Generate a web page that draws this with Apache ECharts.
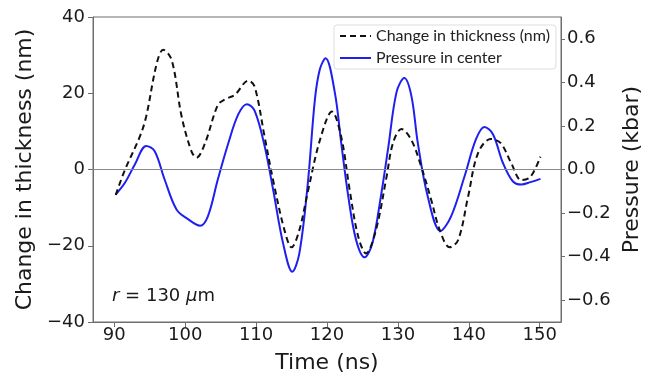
<!DOCTYPE html>
<html>
<head>
<meta charset="utf-8">
<script src="https://cdn.jsdelivr.net/npm/echarts@6/dist/echarts.min.js"></script>
<style>html,body{margin:0;padding:0;background:#fff}#c{width:655px;height:372px}</style>
</head>
<body>
<div id="c"></div>
<script>
const thicknessTime = [90.2,91.5,93.6,94.5,96.0,96.9,98.1,99.5,100.9,101.6,102.8,104.6,105.6,107.0,108.9,109.8,111.2,112.4,114.0,115.0,116.1,117.3,119.0,120.7,122.0,123.2,124.4,125.5,126.9,128.4,129.3,130.5,131.9,133.3,134.7,135.9,137.3,138.5,139.9,141.3,143.1,144.5,146.0,147.4,148.7,150.1];
const thicknessVals = [-6.7,-0.1,8.6,13.9,27.9,31.4,28.7,13.9,4.7,3.1,6.9,16.9,18.4,19.6,23.3,21.7,8.6,-2.8,-15.9,-20.4,-15.9,-5.8,7.7,15.2,8.6,-5.4,-17.6,-22.0,-15.9,-1.9,6.9,10.6,7.7,0.7,-8.0,-15.9,-20.4,-18.5,-7.1,4.3,8.0,6.9,1.6,-2.8,-1.9,3.4];
const pressureTime = [90.2,91.5,92.9,94.5,95.7,97.1,98.8,100.4,102.1,103.2,104.6,106.1,107.5,108.7,109.8,111.2,112.4,113.8,115.1,116.1,117.3,118.3,119.0,119.8,121.1,122.0,123.0,124.1,125.3,126.4,127.6,128.6,129.8,130.9,131.9,132.8,134.2,136.0,137.5,139.4,141.0,142.2,143.4,144.8,146.2,147.4,148.7,150.1];
const pressureVals = [-0.115,-0.061,0.023,0.108,0.084,-0.046,-0.185,-0.228,-0.258,-0.215,-0.046,0.123,0.254,0.300,0.269,0.108,-0.092,-0.338,-0.469,-0.385,-0.061,0.323,0.461,0.511,0.354,0.123,-0.123,-0.323,-0.403,-0.338,-0.123,0.092,0.354,0.420,0.338,0.123,-0.123,-0.282,-0.215,-0.031,0.138,0.195,0.162,0.031,-0.054,-0.069,-0.058,-0.043];
const timeTicks = [90,100,110,120,130,140,150];
const pressureTicks = [-0.6,-0.4,-0.2,0,0.2,0.4,0.6];

const axisColor = '#6e6e6e';
const textColor = '#1a1a1a';
const font = 'DejaVu Sans';
const minus = s => String(s).replace('-', '\u2212');

const chart = echarts.init(document.getElementById('c'));
chart.setOption({
  animation: false,
  grid: {left: 93, right: 94, top: 17, bottom: 50, show: true, borderColor: axisColor, borderWidth: 1,
    outerBoundsMode: 'none', containLabel: false},
  legend: {
    orient: 'vertical', left: 334, top: 25,
    itemWidth: 31, itemHeight: 10, itemGap: 6,
    padding: [3, 6, 3, 5],
    borderColor: '#dddddd', borderWidth: 1, borderRadius: 3, backgroundColor: '#fff',
    itemStyle: {opacity: 0},
    textStyle: {fontFamily: 'Lato', fontSize: 16, color: '#222'},
    data: ['Change in thickness (nm)', 'Pressure in center']
  },
  xAxis: {
    type: 'value', min: 87, max: 153,
    name: 'Time (ns)', nameLocation: 'middle', nameGap: 30,
    nameTextStyle: {fontFamily: font, fontSize: 22, color: textColor},
    axisLine: {show: true, onZero: false, lineStyle: {color: axisColor}},
    axisTick: {show: true, length: 5, customValues: timeTicks, lineStyle: {color: axisColor}},
    axisLabel: {customValues: timeTicks, fontFamily: font, fontSize: 18, color: textColor, margin: 4},
    splitLine: {show: false}
  },
  yAxis: [{
    type: 'value', min: -40, max: 40, interval: 20,
    name: 'Change in thickness (nm)', nameLocation: 'middle', nameGap: 56, nameRotate: 90,
    nameTextStyle: {fontFamily: font, fontSize: 22, color: textColor},
    axisLine: {show: true, onZero: false, lineStyle: {color: axisColor}},
    axisTick: {show: true, length: 5, lineStyle: {color: axisColor}},
    axisLabel: {fontFamily: font, fontSize: 18, color: textColor, margin: 8, formatter: v => minus(v)},
    splitLine: {show: false}
  }, {
    type: 'value', min: -0.7, max: 0.7, position: 'right',
    name: 'Pressure (kbar)', nameLocation: 'middle', nameGap: 57, nameRotate: 90,
    nameTextStyle: {fontFamily: font, fontSize: 22, color: textColor},
    axisLine: {show: true, onZero: false, lineStyle: {color: axisColor}},
    axisTick: {show: true, length: 4, customValues: pressureTicks, lineStyle: {color: axisColor}},
    axisLabel: {customValues: pressureTicks, fontFamily: font, fontSize: 18, color: textColor, margin: 6,
      formatter: v => minus(Number(v).toFixed(1))},
    splitLine: {show: false}
  }],
  graphic: [{
    type: 'text', left: 112, top: 287,
    style: {
      text: '{i|r} = 130 {i|\u03bc}m',
      fontFamily: font, fontSize: 18, fill: textColor,
      rich: {i: {fontFamily: font, fontSize: 18, fontStyle: 'italic', color: textColor}}
    }
  }],
  series: [{
    name: 'Change in thickness (nm)', type: 'line', yAxisIndex: 0,
    data: thicknessTime.map((t, i) => [t, thicknessVals[i]]),
    smooth: 0.35, showSymbol: false, symbol: 'none', color: '#111',
    lineStyle: {color: '#111', width: 2, type: [6, 4]},
    z: 3,
    markLine: {
      silent: true, symbol: 'none', label: {show: false},
      lineStyle: {color: '#888', width: 1, type: 'solid'},
      data: [{yAxis: 0}]
    }
  }, {
    name: 'Pressure in center', type: 'line', yAxisIndex: 1,
    data: pressureTime.map((t, i) => [t, pressureVals[i]]),
    smooth: 0.35, showSymbol: false, symbol: 'none', color: '#1f1ff0',
    lineStyle: {color: '#1f1ff0', width: 2},
    z: 2
  }]
});
</script>
</body>
</html>
